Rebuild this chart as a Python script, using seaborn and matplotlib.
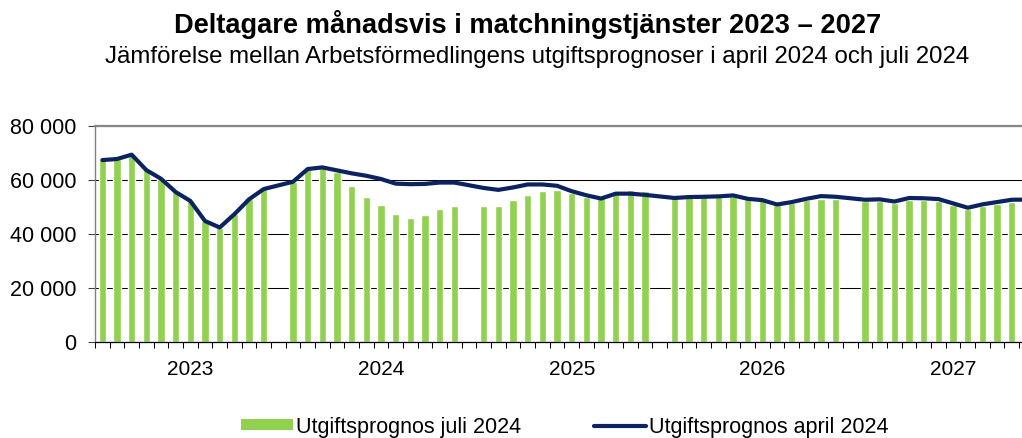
import numpy as np
import pandas as pd
import matplotlib
matplotlib.use("Agg")
import matplotlib.pyplot as plt
import seaborn as sns
from matplotlib.patches import Patch
from matplotlib.lines import Line2D
from matplotlib.ticker import FixedLocator, FixedFormatter, NullFormatter, FuncFormatter

# ---------------- data ----------------
years = [2023, 2024, 2025, 2026, 2027]

juli_2023 = [67300, 67700, 69300, 63600, 60400, 55500, 52200, 44800, 42400, 47300, 52800, 56600]
juli_2024 = [59300, 64000, 64600, 63000, 57900, 53600, 50700, 47500, 46000, 46900, 49300, 50300]
juli_2025 = [50200, 50500, 52600, 54500, 55700, 56300, 55200, 53700, 53500, 56000, 56200, 56000]
juli_2026 = [54500, 54600, 54500, 54000, 54000, 52800, 52400, 50700, 51500, 52400, 53000, 52800]
juli_2027 = [52100, 52100, 51500, 52400, 52400, 52100, 50700, 49400, 50300, 51200, 51800, 51800]

april_2023 = [67300, 67700, 69300, 63600, 60400, 55500, 52200, 44800, 42400, 47300, 52800, 56600]
april_2024 = [59300, 64000, 64600, 63500, 62400, 61500, 60300, 58600, 58400, 58500, 59000, 59000]
april_2025 = [57000, 56300, 57200, 58300, 58300, 57800, 55800, 54300, 53100, 54900, 54900, 54450]
april_2026 = [53300, 53650, 53750, 53900, 54250, 53000, 52500, 50900, 51800, 53000, 54000, 53750]
april_2027 = [52650, 52800, 52000, 53300, 53200, 52900, 51300, 49700, 50950, 51800, 52650, 52700]

juli = [juli_2023, juli_2024, juli_2025, juli_2026, juli_2027]
april = [april_2023, april_2024, april_2025, april_2026, april_2027]

label_juli = "Utgiftsprognos juli 2024"
label_april = "Utgiftsprognos april 2024"
title = "Deltagare månadsvis i matchningstjänster 2023 – 2027"
subtitle = "Jämförelse mellan Arbetsförmedlingens utgiftsprognoser i april 2024 och juli 2024"

# each year: 12 months + one blank category
rows = []
slot = 0
for yi, yr in enumerate(years):
    for m in range(12):
        rows.append(dict(slot=slot, juli=juli[yi][m], april=april[yi][m]))
        slot += 1
    rows.append(dict(slot=slot, juli=np.nan, april=np.nan))
    slot += 1
df = pd.DataFrame(rows)
n_slots = len(df)

# ---------------- style ----------------
sns.set_style("white")
plt.rcParams['font.family'] = ['Liberation Sans', 'DejaVu Sans']
plt.rcParams['text.color'] = 'black'

GREEN = "#92D050"
NAVY = "#0B2361"

W, H = 1022, 438
fig = plt.figure(figsize=(W / 100, H / 100), dpi=100)
ax = fig.add_axes([95 / W, (H - 342.3) / H, (1048.5 - 95) / W, (342.3 - 125.7) / H])

sns.barplot(data=df, x="slot", y="juli", order=list(range(n_slots)), color=GREEN,
            saturation=1, width=0.5, errorbar=None, ax=ax, zorder=2)
dline = df.dropna(subset=["april"])
sns.lineplot(data=dline, x="slot", y="april", color=NAVY, lw=3.0, ax=ax,
             estimator=None, sort=True, zorder=3)

ax.set_xlim(-0.5, n_slots - 0.5)
ax.set_ylim(0, 80000)
ax.set_xlabel("")
ax.set_ylabel("")

# x ticks: boundaries + year labels
ax.xaxis.set_major_locator(FixedLocator(np.arange(-0.5, n_slots, 1.0)))
ax.xaxis.set_major_formatter(NullFormatter())
ax.xaxis.set_minor_locator(FixedLocator([6 + 13 * i for i in range(len(years))]))
ax.xaxis.set_minor_formatter(FixedFormatter([str(y) for y in years]))
ax.tick_params(axis="x", which="major", length=4.3, width=0.75, color="black", direction="out", bottom=True)
ax.tick_params(axis="x", which="minor", length=0, pad=12.5, labelsize=15, labelcolor="black", bottom=True)

# y ticks
ax.yaxis.set_major_locator(FixedLocator([0, 20000, 40000, 60000, 80000]))
ax.yaxis.set_major_formatter(FuncFormatter(lambda v, p: f"{int(v):,}".replace(",", " ")))
ax.tick_params(axis="y", length=5, width=0.75, color="#404040", direction="out", pad=8.5,
               labelsize=15.5, labelcolor="black", left=True)

ax.yaxis.grid(True, color="black", lw=0.75)
ax.xaxis.grid(False)
ax.set_axisbelow(True)

for s in ["left", "top", "bottom", "right"]:
    ax.spines[s].set_visible(True)
ax.spines["right"].set_visible(False)
ax.spines["top"].set_color("#868686")
ax.spines["top"].set_linewidth(1.6)
ax.spines["left"].set_color("#808080")
ax.spines["left"].set_linewidth(1.0)
ax.spines["bottom"].set_color("black")
ax.spines["bottom"].set_linewidth(0.9)

if ax.get_legend() is not None:
    ax.get_legend().remove()

fig.text(527.5 / W, 1 - 33 / H, title, ha="center", va="baseline", fontsize=19.6,
         fontweight="bold", color="black")
fig.text(537.5 / W, 1 - 63 / H, subtitle, ha="center", va="baseline", fontsize=17.3, color="black")

handles = [Patch(facecolor=GREEN, edgecolor="none"), Line2D([0], [0], color=NAVY, lw=3.0)]
leg = fig.legend(handles, [label_juli, label_april], loc="center", bbox_to_anchor=(565 / W, 1 - 427 / H),
                 ncol=2, frameon=False, fontsize=15.5, handlelength=2.4, handleheight=0.42,
                 handletextpad=0.14, columnspacing=3.4, borderaxespad=0, borderpad=0)
for t in leg.get_texts():
    t.set_color("black")

fig.savefig("out.png", dpi=100)
